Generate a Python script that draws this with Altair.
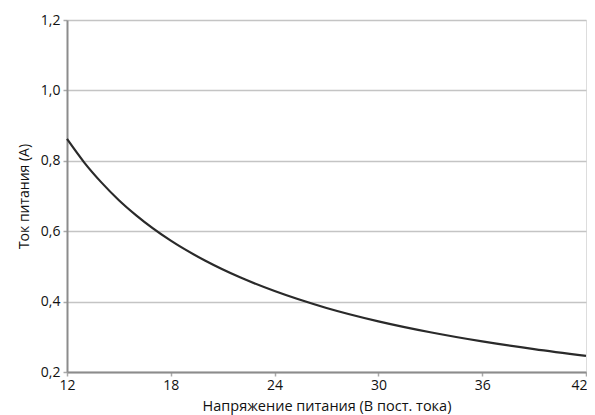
import altair as alt
import pandas as pd

voltage = [12, 13, 14, 15, 16, 18, 20, 22, 24, 27, 30, 33, 36, 39, 42]
current = [0.862, 0.795, 0.738, 0.688, 0.645, 0.573, 0.516, 0.469, 0.430, 0.382, 0.344, 0.313, 0.287, 0.265, 0.246]

x_ticks = [12, 18, 24, 30, 36, 42]
y_ticks = [0.2, 0.4, 0.6, 0.8, 1.0, 1.2]

df = pd.DataFrame({"V": voltage, "I": current})

FONT = "Open Sans"

chart = alt.Chart(df).mark_line(
    interpolate="monotone", color="#2a2a2a", strokeWidth=2.2
).encode(
    x=alt.X(
        "V:Q",
        scale=alt.Scale(domain=[12, 42], nice=False, zero=False),
        axis=alt.Axis(
            values=x_ticks,
            title="Напряжение питания (В пост. тока)",
            grid=False,
            domainColor="#8c8c8c",
            domainWidth=2,
            tickColor="#aaaaaa",
            tickSize=4,
            tickWidth=1.5,
            labelPadding=2,
            labelFontSize=14,
            labelColor="#111111",
            labelFont=FONT,
            labelAlign={"condition": {"test": "datum.value >= 42", "value": "right"}, "value": "center"},
            labelOffset={"condition": {"test": "datum.value >= 42", "value": 1}, "value": 0},
            titleFont=FONT,
            titleFontSize=14.5,
            titleFontWeight="normal",
            titleColor="#111111",
            titleBaseline="alphabetic",
            titleY=38,
            labelFlush=False,
        ),
    ),
    y=alt.Y(
        "I:Q",
        scale=alt.Scale(domain=[0.2, 1.2], nice=False, zero=False),
        axis=alt.Axis(
            values=y_ticks,
            title="Ток питания (А)",
            labelExpr="replace(format(datum.value, '.1f'), '.', ',')",
            grid=True,
            gridColor="#c4c4c4",
            gridWidth=1.5,
            domainColor="#8c8c8c",
            domainWidth=2,
            tickColor="#aaaaaa",
            tickSize=4,
            tickWidth=1.5,
            labelPadding=3,
            labelFontSize=14,
            labelColor="#111111",
            labelFont=FONT,
            titleFont=FONT,
            titleFontSize=14,
            titleFontWeight="normal",
            titleColor="#111111",
            titlePadding=9,
            labelFlush=False,
        ),
    ),
).properties(
    width=519,
    height=352,
    autosize=alt.AutoSizeParams(type="none"),
    padding={"left": 59, "top": 12, "right": 1, "bottom": 43},
).configure_view(
    stroke="#8c8c8c", strokeWidth=1.5
).configure(background="white")

chart.save("out.html", embed_options={"renderer": "svg", "actions": False})
